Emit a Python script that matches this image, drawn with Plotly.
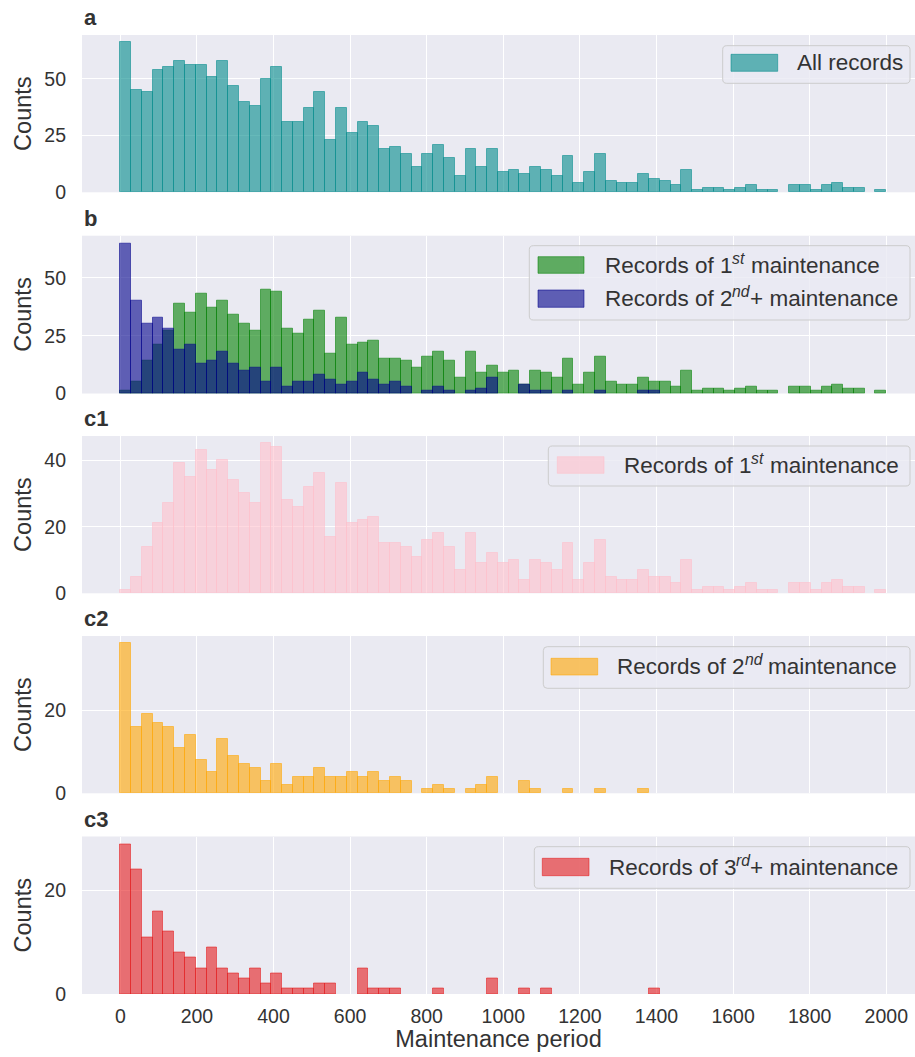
import numpy as np
import plotly.graph_objects as go

# Histogram bin edges shared by every panel (71 bins over 0-2000)
bin_edges = np.linspace(0, 2000, 72)

# Counts per bin: records of the 1st maintenance
first_maint = [1, 5, 14, 21, 27, 39, 35, 43, 37, 40,
               34, 30, 27, 45, 44, 28, 26, 32, 36, 17,
               33, 21, 22, 23, 15, 15, 14, 11, 16, 18,
               14, 7, 18, 9, 12, 9, 10, 4, 10, 9,
               7, 15, 4, 9, 16, 5, 4, 4, 7, 5,
               5, 3, 10, 1, 2, 2, 1, 2, 3, 1,
               1, 0, 3, 3, 1, 3, 4, 2, 2, 0, 1]

# Counts per bin: records of the 2nd maintenance
second_maint = [36, 16, 19, 17, 16, 11, 14, 8, 5, 13,
                9, 7, 6, 3, 7, 2, 4, 4, 6, 4,
                4, 5, 4, 5, 3, 4, 3, 0, 1, 2,
                1, 0, 1, 2, 4, 0, 0, 3, 1, 0,
                0, 1, 0, 0, 1, 0, 0, 0, 1, 0,
                0, 0, 0, 0, 0, 0, 0, 0, 0, 0,
                0, 0, 0, 0, 0, 0, 0, 0, 0, 0, 0]

# Counts per bin: records of the 3rd and later maintenance
third_plus_maint = [29, 24, 11, 16, 12, 8, 7, 5, 9, 5,
                    4, 3, 5, 2, 4, 1, 1, 1, 2, 2,
                    0, 0, 5, 1, 1, 1, 0, 0, 0, 1,
                    0, 0, 0, 0, 3, 0, 0, 1, 0, 1,
                    0, 0, 0, 0, 0, 0, 0, 0, 0, 1,
                    0, 0, 0, 0, 0, 0, 0, 0, 0, 0,
                    0, 0, 0, 0, 0, 0, 0, 0, 0, 0, 0]

x_ticks = [0, 200, 400, 600, 800, 1000, 1200, 1400, 1600, 1800, 2000]

c1 = np.array(first_maint)
c2 = np.array(second_maint)
c3 = np.array(third_plus_maint)
all_records = c1 + c2 + c3
second_plus = c2 + c3

centers = (bin_edges[:-1] + bin_edges[1:]) / 2
bw = bin_edges[1] - bin_edges[0]

# ---- page geometry (pixels) ----
W, H = 915, 1057
L, R, T, B = 82, 0, 35, 63
PW = W - L - R
PH = H - T - B
BOTTOM = H - B


def px_x(px):
    return (px - L) / PW


def px_y(py):
    return (BOTTOM - py) / PH


# panel top/bottom in pixels
panel_px = [(35, 192.3), (235.7, 393.5), (436, 593.3), (636, 793.3), (836.5, 994)]
panel_tag = ["a", "b", "c1", "c2", "c3"]
y_dtick = [25, 25, 20, 20, 20]

TEXT = "#333333"
FONT = "Liberation Sans, Arial, sans-serif"
BG = "#EAEAF2"
LEG_SIZE = 22.5
SUP_SIZE = 15.75


def rgba(rgb, a):
    return "rgba(%d,%d,%d,%.2f)" % (rgb[0], rgb[1], rgb[2], a)


TEAL = (0, 139, 139)
GREEN = (0, 128, 0)
BLUE = (0, 0, 139)
PINK = (255, 192, 203)
ORANGE = (255, 165, 0)
RED = (228, 26, 28)
ALPHA = 0.6

fig = go.Figure()


def add_hist(counts, rgb, panel):
    sfx = "" if panel == 0 else str(panel + 1)
    # empty bins get no outline so nothing is drawn along the baseline
    edge_w = [1 if v > 0 else 0 for v in counts]
    fig.add_trace(go.Bar(
        x=centers, y=counts, width=bw,
        marker=dict(color=rgba(rgb, ALPHA),
                    line=dict(color=rgba(rgb, 0.55), width=edge_w)),
        xaxis="x" + sfx, yaxis="y" + sfx, showlegend=False,
        hoverinfo="x+y",
    ))


add_hist(all_records, TEAL, 0)
add_hist(c1, GREEN, 1)
add_hist(second_plus, BLUE, 1)
add_hist(c1, PINK, 2)
add_hist(c2, ORANGE, 3)
add_hist(c3, RED, 4)

panel_max = [all_records.max(),
             max(c1.max(), second_plus.max()),
             c1.max(), c2.max(), c3.max()]

layout = dict(
    width=W, height=H,
    margin=dict(l=L, r=R, t=T, b=B, autoexpand=False),
    paper_bgcolor="white", plot_bgcolor=BG,
    barmode="overlay", bargap=0,
    font=dict(family=FONT, size=19.5, color=TEXT),
    showlegend=False,
)

for i, (top, bot) in enumerate(panel_px):
    sfx = "" if i == 0 else str(i + 1)
    last = i == len(panel_px) - 1
    xa = dict(
        domain=[0, 1], anchor="y" + sfx,
        range=[-100, 2075],
        tickvals=x_ticks, showticklabels=last,
        showgrid=True, gridcolor="white", gridwidth=1.3,
        zeroline=False, showline=False, ticks="",
        ticklabelstandoff=8,
    )
    if i > 0:
        xa["matches"] = "x"
    if last:
        xa["title"] = dict(text="Maintenance period", standoff=4,
                           font=dict(size=23.5, color=TEXT))
    layout["xaxis" + sfx] = xa
    layout["yaxis" + sfx] = dict(
        domain=[px_y(bot), px_y(top)], anchor="x" + sfx,
        range=[0, panel_max[i] * 1.05],
        dtick=y_dtick[i], tick0=0,
        showgrid=True, gridcolor="white", gridwidth=1.3,
        zeroline=False, showline=False, ticks="",
        ticklabelstandoff=15,
        title=dict(text="Counts", standoff=6,
                   font=dict(size=23.5, color=TEXT)),
    )

fig.update_layout(**layout)

shapes = []
annotations = []

# panel letters
for (top, bot), tag in zip(panel_px, panel_tag):
    annotations.append(dict(
        text=tag, xref="paper", yref="paper",
        x=0, y=px_y(top), xanchor="left", yanchor="bottom",
        yshift=3, showarrow=False,
        font=dict(size=22, color=TEXT, family=FONT, weight="bold"),
    ))

# Arial / Liberation Sans advance widths (1/1000 em) for the legend labels
ADV = {"R": 722, "e": 556, "c": 500, "o": 556, "r": 333, "d": 556,
       "s": 500, " ": 278, "f": 278, "1": 556, "2": 556, "3": 556,
       "m": 833, "a": 556, "i": 222, "n": 556, "t": 278, "+": 584,
       "A": 667, "l": 222}


def text_w(s, size):
    return sum(ADV[ch] for ch in s) * size / 1000.0


def rounded_box(x0, y0, x1, y1, r=4):
    rx = r / PW
    ry = r / PH
    a, b = px_x(x0), px_x(x1)
    top, bot = px_y(y0), px_y(y1)
    return ("M%f,%f L%f,%f Q%f,%f %f,%f L%f,%f Q%f,%f %f,%f "
            "L%f,%f Q%f,%f %f,%f L%f,%f Q%f,%f %f,%f Z") % (
        a + rx, top, b - rx, top, b, top, b, top - ry,
        b, bot + ry, b, bot, b - rx, bot,
        a + rx, bot, a, bot, a, bot + ry,
        a, top - ry, a, top, a + rx, top)


def label_part(text, x_px, y_px, size, italic=False, yshift=0):
    annotations.append(dict(
        text=text, xref="paper", yref="paper",
        x=px_x(x_px), y=px_y(y_px), yshift=yshift,
        xanchor="left", yanchor="middle", showarrow=False,
        font=dict(size=size, color=TEXT, family=FONT,
                  style="italic" if italic else "normal"),
    ))


def legend(box, items):
    x0, y0, x1, y1 = box
    shapes.append(dict(type="path", xref="paper", yref="paper",
                       path=rounded_box(x0, y0, x1, y1),
                       fillcolor="rgba(234,234,242,0.8)",
                       line=dict(color="#CCCCCC", width=1), layer="above"))
    for (px0, py0, px1, py1, rgb, parts, tx) in items:
        shapes.append(dict(type="rect", xref="paper", yref="paper",
                           x0=px_x(px0), x1=px_x(px1),
                           y0=px_y(py1), y1=px_y(py0),
                           fillcolor=rgba(rgb, ALPHA),
                           line=dict(color=rgba(rgb, 0.55), width=1),
                           layer="above"))
        cy = (py0 + py1) / 2
        head, sup, tail = parts
        label_part(head, tx, cy, LEG_SIZE)
        if sup:
            xs = tx + text_w(head, LEG_SIZE)
            label_part(sup, xs, cy, SUP_SIZE, italic=True, yshift=7)
            xt = xs + text_w(sup, SUP_SIZE)
            lead = len(tail) - len(tail.lstrip())
            xt += lead * ADV[" "] * LEG_SIZE / 1000.0
            label_part(tail.lstrip(), xt, cy, LEG_SIZE)


legend((722.7, 45.7, 910, 83.3),
       [(731, 54.3, 777.7, 71.3, TEAL, ("All records", "", ""), 795)])
legend((529.3, 245.7, 910, 320),
       [(538, 256.7, 584, 273.3, GREEN,
         ("Records of 1", "st", " maintenance"), 602.7),
        (538, 290, 584, 307.3, BLUE,
         ("Records of 2", "nd", "+ maintenance"), 602.7)])
legend((548.3, 446, 910, 486),
       [(557.3, 456.7, 604, 473.3, PINK,
         ("Records of 1", "st", " maintenance"), 621.7)])
legend((543.3, 646.7, 910, 688.3),
       [(551, 658.3, 597.7, 675, ORANGE,
         ("Records of 2", "nd", " maintenance"), 615)])
legend((534.3, 846.7, 910, 888.3),
       [(542.3, 858.3, 589, 875.7, RED,
         ("Records of 3", "rd", "+ maintenance"), 606.7)])

fig.update_layout(shapes=shapes, annotations=annotations)

fig.write_html("out.html")
